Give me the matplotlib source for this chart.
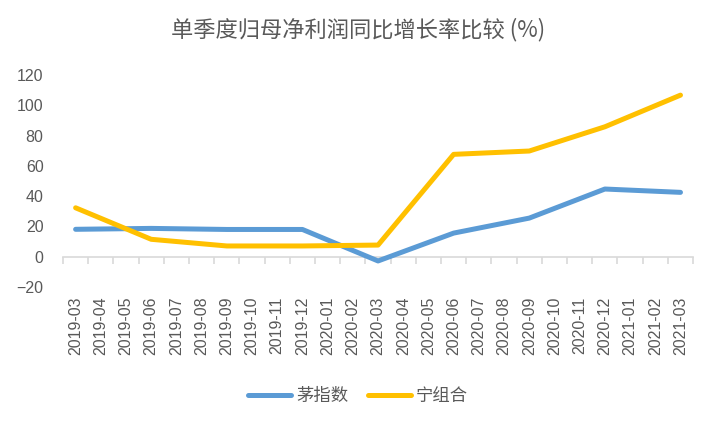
import numpy as np
import matplotlib.pyplot as plt

plt.rcParams["font.family"] = ["Liberation Sans", "Noto Sans CJK SC"]

months = ["2019-03", "2019-04", "2019-05", "2019-06", "2019-07", "2019-08", "2019-09",
          "2019-10", "2019-11", "2019-12", "2020-01", "2020-02", "2020-03", "2020-04",
          "2020-05", "2020-06", "2020-07", "2020-08", "2020-09", "2020-10", "2020-11",
          "2020-12", "2021-01", "2021-02", "2021-03"]
quarters = ["2019-03", "2019-06", "2019-09", "2019-12", "2020-03",
            "2020-06", "2020-09", "2020-12", "2021-03"]
mao = [18.1, 18.7, 18.0, 18.0, -2.8, 15.6, 25.5, 44.7, 42.5]
ning = [32.3, 11.5, 7.1, 7.1, 7.7, 67.6, 69.8, 85.8, 106.7]

xq = [months.index(q) for q in quarters]

fig = plt.figure(figsize=(7.16, 4.23), dpi=100)
ax = fig.add_axes([0.088, 0.3215, 0.88, 0.5012])

ax.plot(xq, mao, color="#5B9BD5", lw=3.6, solid_capstyle="round", label="茅指数")
ax.plot(xq, ning, color="#FFC000", lw=3.6, solid_capstyle="round", label="宁组合")

ax.set_xlim(-0.5, len(months) - 0.5)
ax.set_ylim(-20, 120)
ax.set_yticks(np.arange(-20, 121, 20))
ax.tick_params(axis="y", length=0, labelsize=11.5, labelcolor="#595959", pad=14)

ax.set_xticks(range(len(months)))
ax.set_xticklabels(months, rotation=90)
ax.tick_params(axis="x", length=0, labelsize=11.5, labelcolor="#595959", pad=7)

for s in ax.spines.values():
    s.set_visible(False)

# axis line at y = 0 with tick marks between categories
sec = ax.secondary_xaxis(20 / 140)
sec.spines["bottom"].set_color("#D9D9D9")
sec.spines["bottom"].set_linewidth(1.2)
sec.set_xticks(np.arange(-0.5, len(months), 1.0))
sec.tick_params(axis="x", length=5, width=1.2, color="#D9D9D9", labelbottom=False)
ax.set_zorder(2)

fig.suptitle("单季度归母净利润同比增长率比较 (%)", x=0.5, y=0.929, va="center",
             fontsize=16, color="#595959", family=["Noto Sans CJK SC", "DejaVu Sans"])

fig.legend(loc="center", bbox_to_anchor=(0.5, 0.064), ncol=2, frameon=False,
           handlelength=2.5, handletextpad=0.3, columnspacing=1.1,
           labelcolor="#595959", prop={"family": "Noto Sans CJK SC", "size": 12.5})

fig.savefig("out.png", dpi=100)
